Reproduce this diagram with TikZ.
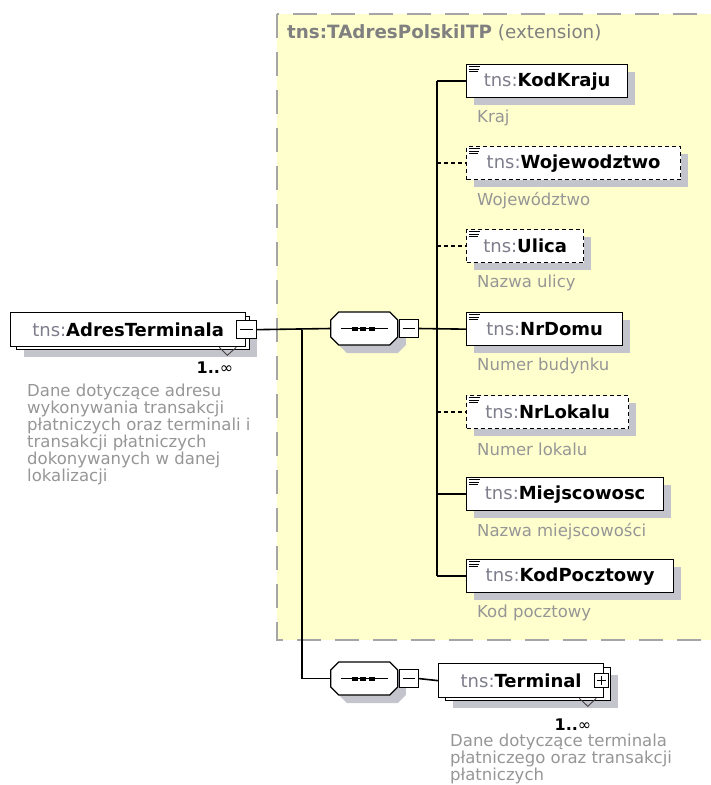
\documentclass[tikz,border=0pt]{standalone}
\usepackage{fontspec}
\setmainfont{DejaVu Sans}
\usetikzlibrary{shadows}
\definecolor{yellowbg}{RGB}{255,255,206}
\definecolor{framegray}{RGB}{165,165,165}
\definecolor{shadowgray}{RGB}{196,196,204}
\definecolor{tnsgray}{RGB}{125,125,140}
\definecolor{descgray}{RGB}{150,150,150}
\newcommand{\namefont}{\fontsize{18}{20}\selectfont}
\newcommand{\descfont}{\fontsize{16.5}{17}\selectfont}
\newcommand{\tns}[1]{{\color{tnsgray}tns:}\textbf{#1}}
% three little lines in the corner of a simple element
\newcommand{\contenticon}[1]{%
  \foreach \dy/\len in {2.5/11,5.2/10,7.9/9}
    \draw[line width=1pt] ([shift={(3,\dy)}]#1.north west) -- ++(\len,0);}
% octagon of a sequence compositor, drawn from its left point
\newcommand{\octagon}[2]{%
  \path[#1] #2 ++(0,-8.5) -- ++(8,-8) -- ++(51,0) -- ++(8,8) -- ++(0,17)
    -- ++(-8,8) -- ++(-51,0) -- ++(-8,-8) -- cycle;}

\begin{document}
\begin{tikzpicture}[x=1pt,y=-1pt,
  box/.style={draw, fill=white, line width=1.3pt, rectangle, inner sep=0pt,
    minimum height=33pt, anchor=north west, font=\namefont},
  elem/.style={box, general shadow={fill=shadowgray, shadow xshift=7pt, shadow yshift=-7pt}},
  optelem/.style={elem, dash pattern=on 4pt off 3pt},
  btn/.style={draw, fill=white, line width=1pt, rectangle, inner sep=0pt,
    minimum width=19pt, minimum height=18pt},
  seq/.style={rectangle, inner sep=0pt, minimum width=67pt, minimum height=33pt},
  desc/.style={anchor=west, text=descgray, font=\descfont, inner sep=0pt},
  mult/.style={font=\fontsize{16}{18}\selectfont, inner sep=0pt},
  notch/.style={line width=0.9pt, draw=black!75},
  wire/.style={line width=1.6pt},
  optwire/.style={wire, dash pattern=on 4pt off 3pt}]
\useasboundingbox (0,0) rectangle (711,785);

% extension frame
\draw[fill=yellowbg, draw=framegray, line width=1.5pt, dash pattern=on 24pt off 14pt]
  (277,14) rectangle (716,640);
\node[anchor=west, inner sep=0pt, text=black!50, font=\fontsize{18.3}{20}\selectfont] (ext)
  at (287,33) {\textbf{tns:TAdresPolskiITP} (extension)};

% root element
\node[elem, minimum width=233pt] (adresback) at (16,316) {};
\node[box, minimum width=235pt, minimum height=34pt] (adres) at (10,312) {\tns{AdresTerminala}\hspace{4pt}};
\node[btn, minimum width=20pt] (adresbtn) at (adres.east) {};
\draw[line width=1pt] ([xshift=4pt]adresbtn.west) -- ([xshift=-4pt]adresbtn.east);
\draw[notch] ([shift={(-31,-3)}]adresback.south east) -- ++(8,8) -- ++(9,-8);
\node[mult] (adresmult) at (215,368) {\textbf{1..}∞};
\node[desc, anchor=north west, align=left] (adresdesc) at (27,384)
  {Dane dotyczące adresu\\wykonywania transakcji\\płatniczych oraz terminali i\\transakcji płatniczych\\dokonywanych w danej\\lokalizacji};

% sequence of the address fields
\node[seq] (seq1) at (364.5,328.5) {};
\octagon{fill=shadowgray}{([shift={(8,8)}]seq1.west)}
\octagon{draw, fill=white, line width=1.3pt}{(seq1.west)}
\node[btn] (seq1btn) at (408.5,328.5) {};
\draw[line width=1pt] ([xshift=4pt]seq1btn.west) -- ([xshift=-4pt]seq1btn.east);
\draw[line width=1.2pt] ([xshift=10pt]seq1.west) -- ([xshift=-10pt]seq1.east);
\foreach \dx in {-10,-1.5,7}
  \fill ([shift={(\dx-3,-2)}]seq1.center) rectangle ++(6,4);

\node[elem, minimum width=161pt] (kodkraju) at (466,64) {\tns{KodKraju}};
\node[optelem, minimum width=214pt] (woj) at (466,146) {\tns{Wojewodztwo}};
\node[optelem, minimum width=117pt] (ulica) at (466,229) {\tns{Ulica}};
\node[elem, minimum width=156pt] (nrdomu) at (466,312) {\tns{NrDomu}};
\node[optelem, minimum width=162pt] (nrlokalu) at (466,395) {\tns{NrLokalu}};
\node[elem, minimum width=197pt] (miejsc) at (466,477) {\tns{Miejscowosc}};
\node[elem, minimum width=207pt] (kodpoczt) at (466,559) {\tns{KodPocztowy}};
\contenticon{kodkraju}
\contenticon{woj}
\contenticon{ulica}
\contenticon{nrdomu}
\contenticon{nrlokalu}
\contenticon{miejsc}
\contenticon{kodpoczt}

\node[desc] (kodkrajudesc) at ([shift={(11,20)}]kodkraju.south west) {Kraj};
\node[desc] (wojdesc) at ([shift={(11,20)}]woj.south west) {Województwo};
\node[desc] (ulicadesc) at ([shift={(11,20)}]ulica.south west) {Nazwa ulicy};
\node[desc] (nrdomudesc) at ([shift={(11,20)}]nrdomu.south west) {Numer budynku};
\node[desc] (nrlokaludesc) at ([shift={(11,20)}]nrlokalu.south west) {Numer lokalu};
\node[desc] (miejscdesc) at ([shift={(11,20)}]miejsc.south west) {Nazwa miejscowości};
\node[desc] (kodpocztdesc) at ([shift={(11,20)}]kodpoczt.south west) {Kod pocztowy};

% connectors
\coordinate (trunk) at (437,0);
\coordinate (trunkb) at (302,0);
\draw[wire] (adresbtn.east) -- (seq1.west);
\draw[wire] (seq1btn.east) -- (nrdomu.west);
\draw[wire] (kodkraju.west -| trunk) -- (kodpoczt.west -| trunk);
\draw[wire] (kodkraju.west -| trunk) -- (kodkraju.west);
\draw[optwire] (woj.west -| trunk) -- (woj.west);
\draw[optwire] (ulica.west -| trunk) -- (ulica.west);
\draw[optwire] (nrlokalu.west -| trunk) -- (nrlokalu.west);
\draw[wire] (miejsc.west -| trunk) -- (miejsc.west);
\draw[wire] (kodpoczt.west -| trunk) -- (kodpoczt.west);

% second sequence with the terminal
\node[seq] (seq2) at (364.5,678.5) {};
\octagon{fill=shadowgray}{([shift={(8,8)}]seq2.west)}
\octagon{draw, fill=white, line width=1.3pt}{(seq2.west)}
\node[btn] (seq2btn) at (408.5,678.5) {};
\draw[line width=1pt] ([xshift=4pt]seq2btn.west) -- ([xshift=-4pt]seq2btn.east);
\draw[line width=1.2pt] ([xshift=10pt]seq2.west) -- ([xshift=-10pt]seq2.east);
\foreach \dx in {-10,-1.5,7}
  \fill ([shift={(\dx-3,-2)}]seq2.center) rectangle ++(6,4);
\draw[wire] (adresbtn.east -| trunkb) |- (seq2.west);

\node[elem, minimum width=165pt] (terminalback) at (445,667) {};
\node[box, minimum width=165pt, minimum height=34pt] (terminal) at (438,663) {\tns{Terminal}\hspace{14pt}};
\node[btn, minimum width=14pt, minimum height=14pt] (terminalbtn) at ([xshift=-3pt]terminal.east) {};
\draw[line width=1pt] ([xshift=3pt]terminalbtn.west) -- ([xshift=-3pt]terminalbtn.east);
\draw[line width=1pt] ([yshift=3pt]terminalbtn.south) -- ([yshift=-3pt]terminalbtn.north);
\draw[wire] (seq2btn.east) -- (terminal.west);
\draw[notch] ([shift={(-32,-3)}]terminalback.south east) -- ++(8.5,8) -- ++(8.5,-8);
\node[mult] (terminalmult) at (573,725) {\textbf{1..}∞};
\node[desc, anchor=north west, align=left] (terminaldesc) at (450,734)
  {Dane dotyczące terminala\\płatniczego oraz transakcji\\płatniczych};
\end{tikzpicture}
\end{document}
